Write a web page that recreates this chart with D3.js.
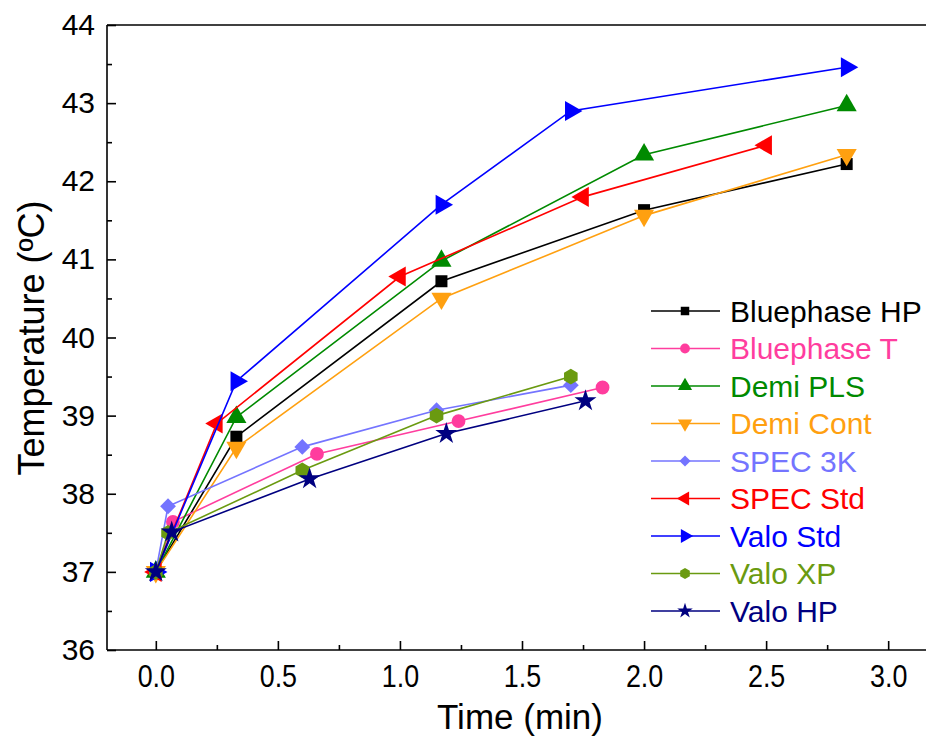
<!DOCTYPE html>
<html>
<head>
<meta charset="utf-8">
<script src="https://d3js.org/d3.v7.min.js"></script>
<style>
  body { margin: 0; background: #fff; }
  text { font-family: "Liberation Sans", Arial, sans-serif; }
</style>
</head>
<body>
<script>
// series names, colours and readings (time in min, temperature in ºC)
var names = ["Bluephase HP", "Bluephase T", "Demi PLS", "Demi Cont", "SPEC 3K",
             "SPEC Std", "Valo Std", "Valo XP", "Valo HP"];
var colors = ["#000000", "#ff3d9e", "#008a00", "#ffa010", "#7474ff",
              "#ff0000", "#0000ff", "#6a9a10", "#000080"];
var shapes = ["square", "circle", "up", "down", "diamond", "left", "right", "hexagon", "star"];

var times = [
  [0, 0.33, 1.17, 2.0, 2.83],
  [0, 0.07, 0.66, 1.24, 1.83],
  [0, 0.33, 1.17, 2.0, 2.83],
  [0, 0.33, 1.17, 2.0, 2.83],
  [0, 0.05, 0.6, 1.15, 1.7],
  [0, 0.25, 1.0, 1.75, 2.5],
  [0, 0.33, 1.17, 1.7, 2.83],
  [0, 0.05, 0.6, 1.15, 1.7],
  [0, 0.065, 0.63, 1.19, 1.76]
];
var temps = [
  [37.0, 38.73, 40.72, 41.63, 42.22],
  [37.0, 37.64, 38.51, 38.93, 39.36],
  [37.0, 38.98, 40.98, 42.34, 42.97],
  [37.0, 38.59, 40.50, 41.56, 42.34],
  [37.0, 37.84, 38.60, 39.07, 39.39],
  [37.0, 38.90, 40.78, 41.80, 42.46],
  [37.0, 39.44, 41.70, 42.90, 43.46],
  [37.0, 37.50, 38.30, 39.00, 39.50],
  [37.0, 37.51, 38.19, 38.77, 39.19]
];
var xTicks = [0, 0.5, 1, 1.5, 2, 2.5, 3];
var yTicks = [36, 37, 38, 39, 40, 41, 42, 43, 44];

var W = 926, H = 738;
var pLeft = 107, pTop = 25, pRight = 937, pBottom = 650;

var svg = d3.select("body").append("svg").attr("width", W).attr("height", H);

var x = d3.scaleLinear().domain([-0.2, 3.2]).range([pLeft, pRight]);
var y = d3.scaleLinear().domain([36, 44]).range([pBottom, pTop]);

// hexagon is not one of d3's symbols
var hexagon = {
  draw: function(ctx, size) {
    var r = Math.sqrt(size / (1.5 * Math.sqrt(3)));
    for (var i = 0; i < 6; i++) {
      var a = Math.PI / 6 + i * Math.PI / 3;
      if (i === 0) ctx.moveTo(r * Math.cos(a), r * Math.sin(a));
      else ctx.lineTo(r * Math.cos(a), r * Math.sin(a));
    }
    ctx.closePath();
  }
};
var shapeType = {
  square: [d3.symbolSquare, 0], circle: [d3.symbolCircle, 0],
  up: [d3.symbolTriangle, 0], down: [d3.symbolTriangle, 180],
  left: [d3.symbolTriangle, -90], right: [d3.symbolTriangle, 90],
  diamond: [d3.symbolSquare, 45], hexagon: [hexagon, 0], star: [d3.symbolStar, 0]
};
var shapeSize = { square: 144, circle: 150, up: 175, down: 175, left: 175, right: 175,
                  diamond: 125, hexagon: 160, star: 150 };

function marker(g, shape, color, scale) {
  var t = shapeType[shape];
  g.append("path")
    .attr("d", d3.symbol().type(t[0]).size(shapeSize[shape] * scale)())
    .attr("transform", "rotate(" + t[1] + ")")
    .attr("fill", color);
}

// top frame line (right side lies outside the picture)
svg.append("line").attr("x1", pLeft).attr("x2", W).attr("y1", pTop).attr("y2", pTop)
  .attr("stroke", "#000").attr("stroke-width", 1.6);

// axes with ticks pointing inward
var xAxis = svg.append("g").attr("transform", "translate(0," + pBottom + ")")
  .call(d3.axisTop(x).tickValues(d3.range(0, 3.26, 0.25)).tickSize(5).tickFormat(""));
xAxis.selectAll(".tick line").filter(function(d) { return Math.abs(d * 2 - Math.round(d * 2)) < 1e-6; })
  .attr("y2", -9);
svg.append("g").attr("transform", "translate(0," + pBottom + ")")
  .call(d3.axisBottom(x).tickValues(xTicks).tickSize(0).tickPadding(14).tickFormat(d3.format(".1f")))
  .call(function(g) { g.select(".domain").remove(); })
  .selectAll("text").attr("font-size", 32).attr("fill", "#000")
  .attr("transform", "scale(0.84,1)");

var yAxis = svg.append("g").attr("transform", "translate(" + pLeft + ",0)")
  .call(d3.axisRight(y).tickValues(d3.range(36, 44.01, 0.5)).tickSize(5).tickFormat(""));
yAxis.selectAll(".tick line").filter(function(d) { return d % 1 === 0; }).attr("x2", 9);
svg.append("g").attr("transform", "translate(" + pLeft + ",0)")
  .call(d3.axisLeft(y).tickValues(yTicks).tickSize(0).tickPadding(12).tickFormat(d3.format("d")))
  .call(function(g) { g.select(".domain").remove(); })
  .selectAll("text").attr("font-size", 30).attr("fill", "#000");

[xAxis, yAxis].forEach(function(a) {
  a.select(".domain").attr("stroke-width", 1.6);
  a.selectAll(".tick line").attr("stroke-width", 1.6);
});
xAxis.select(".domain").attr("d", "M" + pLeft + ",0H" + W);
yAxis.select(".domain").attr("d", "M0," + pTop + "V" + pBottom);

// axis titles
svg.append("text").attr("x", 520).attr("y", 729).attr("text-anchor", "middle")
  .attr("font-size", 35).text("Time (min)");
svg.append("text").attr("transform", "translate(44,338) rotate(-90)").attr("text-anchor", "middle")
  .attr("font-size", 36).text("Temperature (ºC)");

// series
var line = d3.line().x(function(d) { return x(d[0]); }).y(function(d) { return y(d[1]); });
names.forEach(function(name, i) {
  var pts = d3.zip(times[i], temps[i]);
  var g = svg.append("g");
  g.append("path").attr("d", line(pts)).attr("fill", "none")
    .attr("stroke", colors[i]).attr("stroke-width", 1.6);
  pts.forEach(function(p) {
    var m = g.append("g").attr("transform", "translate(" + x(p[0]) + "," + y(p[1]) + ")");
    marker(m, shapes[i], colors[i], 1);
  });
});

// legend
var leg = svg.append("g");
names.forEach(function(name, i) {
  var ly = 311 + i * 37.5;
  leg.append("line").attr("x1", 651).attr("x2", 720).attr("y1", ly).attr("y2", ly)
    .attr("stroke", colors[i]).attr("stroke-width", 1.6);
  var m = leg.append("g").attr("transform", "translate(685," + ly + ")");
  marker(m, shapes[i], colors[i], 0.5);
  leg.append("text").attr("x", 730).attr("y", ly).attr("dy", "0.35em")
    .attr("font-size", 30).attr("fill", colors[i]).text(name);
});
</script>
</body>
</html>
